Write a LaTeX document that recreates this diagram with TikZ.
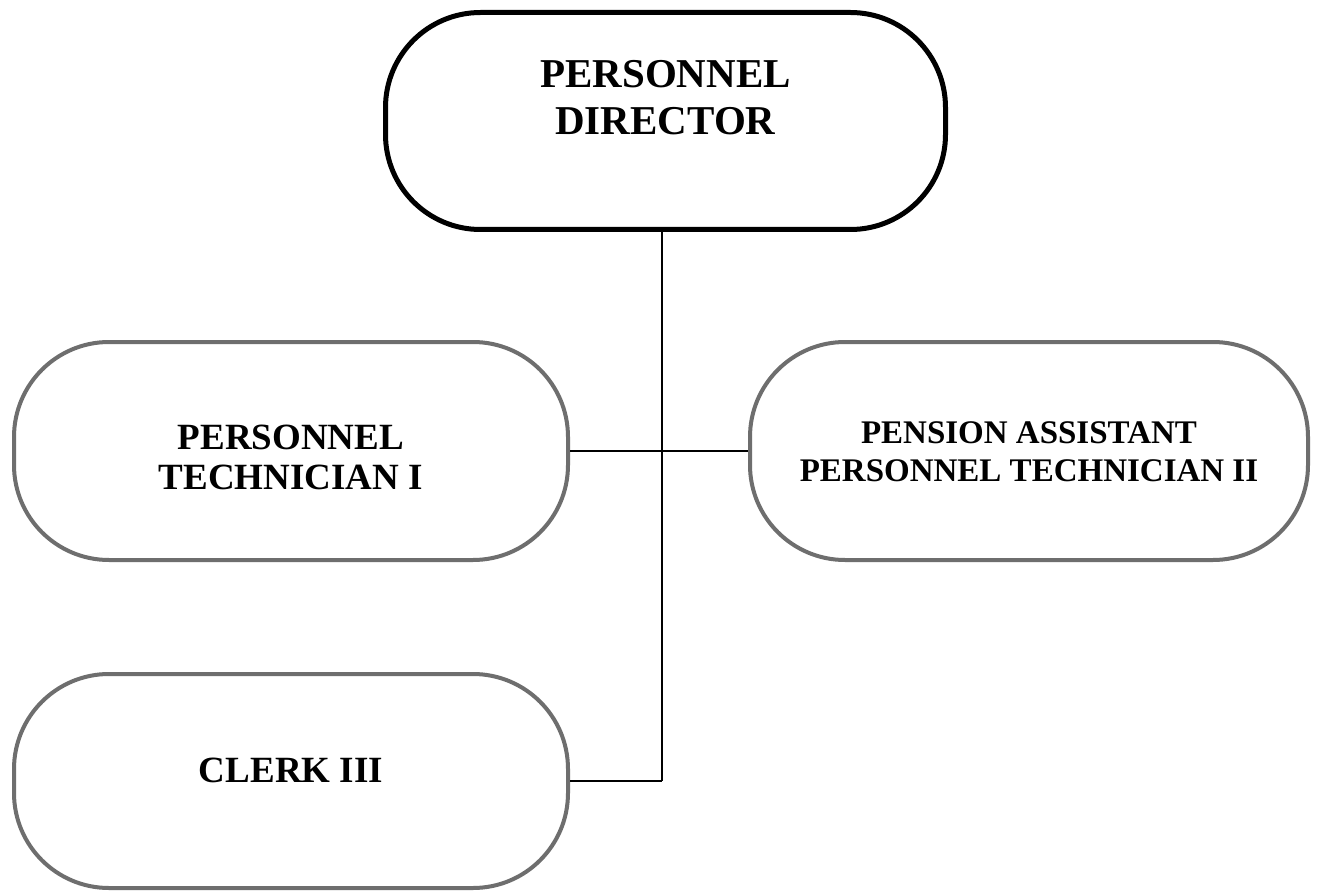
\documentclass[tikz,border=0pt]{standalone}
\usepackage{fontspec}
\setmainfont{Liberation Serif}
\definecolor{rimgray}{HTML}{6E6E6E}
\begin{document}
\begin{tikzpicture}[x=1pt,y=-1pt,
  chief/.style={draw=black, line width=5pt, rounded corners=95pt,
    minimum width=560pt, minimum height=217pt, inner sep=0pt, fill=white},
  staff/.style={draw=rimgray, line width=4pt, rounded corners=95pt,
    minimum height=218pt, inner sep=0pt, fill=white},
  title/.style={align=center, font=\bfseries\fontsize{41}{47}\selectfont},
  role/.style={align=center, font=\bfseries\fontsize{37}{40}\selectfont},
  rolesm/.style={align=center, font=\bfseries\fontsize{33}{38}\selectfont},
  conn/.style={draw=black, line width=1.5pt}]
\useasboundingbox (0,0) rectangle (1317,896);
\fill[white] (0,0) rectangle (1317,896);

% boxes
\node[chief, label={[title, yshift=23pt]center:PERSONNEL\\DIRECTOR}] (dir) at (665.5,121) {};
\node[staff, minimum width=554pt, label={[role, yshift=-6pt]center:PERSONNEL\\TECHNICIAN I}] (tech) at (291,451) {};
\node[staff, minimum width=558pt, label={[rolesm, yshift=-1pt]center:PENSION ASSISTANT\\PERSONNEL TECHNICIAN II}] (pen) at (1029,451) {};
\node[staff, minimum width=554pt, minimum height=214pt, label={[role, yshift=11pt]center:CLERK III}] (clerk) at (291,781) {};

% reporting lines
\coordinate (j) at (662,781);
\draw[conn] (dir.south -| j) -- (j);
\draw[conn] (tech.east) -- (pen.west);
\draw[conn] (clerk.east) -- (j);
\end{tikzpicture}
\end{document}
